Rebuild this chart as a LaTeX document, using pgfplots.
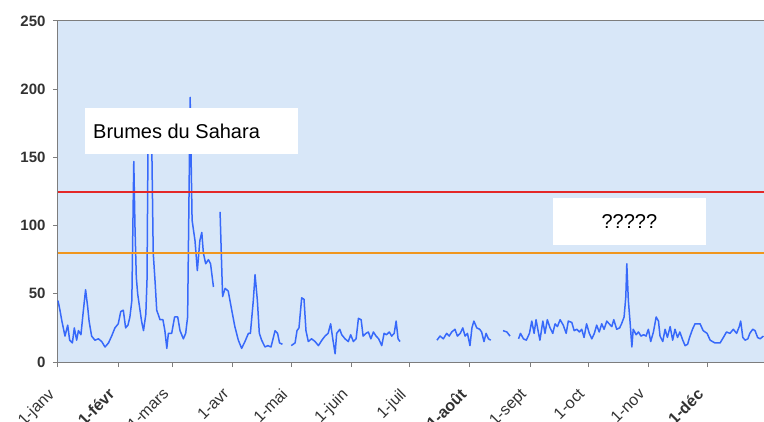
\documentclass[border=0pt]{standalone}
\usepackage{pgfplots}
\pgfplotsset{compat=1.18}
\usepackage{fontspec}
\setmainfont{Liberation Sans}
\definecolor{bgblue}{RGB}{216,231,248}
\definecolor{lineblue}{RGB}{55,105,250}
\definecolor{limred}{RGB}{228,40,40}
\definecolor{reforange}{RGB}{240,150,30}
\definecolor{framegray}{RGB}{125,125,125}
\definecolor{labgray}{RGB}{50,50,50}
\begin{document}
\begin{tikzpicture}
\begin{axis}[
  scale only axis,
  width=706pt, height=341pt,
  xmin=0, xmax=363.3, ymin=0, ymax=250,
  /pgf/number format/assume math mode=true,
  axis background/.style={fill=bgblue},
  axis line style={framegray, line width=1pt},
  tick style={framegray, line width=1pt},
  tick align=outside,
  major tick length=5pt,
  xtick={0,31,59,90,120,151,181,212,243,273,304,334},
  xticklabels={},
  ytick={0,50,100,150,200,250},
  yticklabel style={font=\fontsize{15}{18}\selectfont\bfseries, text=labgray, xshift=-4pt},
  xtick pos=bottom, ytick pos=left,
  unbounded coords=jump,
  clip=false,
]
\addplot[lineblue, line width=1.5pt, line join=round] coordinates {
(0,45)(1,38)(2,30)(3.6,19)(5,27)(6,16)(7.4,14)(8.4,25)(9.6,16)(10.5,23)(11.8,20)(13,37)(14.2,53)(15.3,40)(16,30)(17.3,19)(19,16)(20.8,17)(22.5,15)(24.2,11)(26,14)(27.6,19)(29.3,25)(31,28)(32.3,37)(33.6,38)(34.8,25)(36,27)(37,33)(38,45)(39,147)(39.6,100)(40.3,62)(41,50)(42,40)(43,30)(44,23)(45.2,35)(45.8,60)(46.3,155)(47.3,160)(48.3,155)(49,80)(50,58)(50.8,38)(52.5,31)(54,31)(55,23)(56,10)(56.8,21)(58.5,21)(60,33)(61.6,33)(62.8,23)(64.5,17)(65.7,21)(66.7,33)(68,194)(69,104)(70.5,89)(71.7,67)(73,89)(74,95)(74.8,80)(76,72)(77.4,75)(78.5,72)(80,55)(81,nan)
(83.4,110)(84.7,48)(86,54)(87.6,52)(89.4,38)(91,26)(92.8,16)(94.5,10)(96.2,15)(98,21)(99,21)(100.5,45)(101.4,64)(102.6,45)(103.6,21)(104.8,16)(106.5,11)(108,12)(109.6,11)(111.7,23)(113,21)(114,14)(115.5,13)(117,nan)
(120,12)(122,14)(123,23)(124,25)(125.4,47)(126.6,46)(127.6,23)(128.8,15)(130.5,17)(132.3,15)(134,12)(135.8,16)(137.4,19)(139,21)(140.3,28)(141.4,17)(142.6,6)(143.4,21)(145,24)(146,20)(147.7,17)(149.4,15)(150.6,20)(152,15)(153.4,17)(154.6,32)(156,31)(157,19)(158.5,21)(159.7,22)(161,17)(162.3,22)(163.7,19)(165,17)(166.6,12)(167.8,21)(169,20)(170.5,22)(171.7,19)(173,21)(174,30)(175,17)(176,15)(180,nan)
(195,16)(196.6,19)(198.3,17)(200,21)(201.3,19)(202.6,22)(204.3,24)(205.5,19)(207,21)(208.3,25)(209.5,19)(210.7,21)(212,12)(213,25)(214,30)(215.5,25)(217,24)(218,22)(219.2,15)(220.3,21)(221.5,17)(222.7,16)(225,nan)
(229,23)(231,22)(232.6,19)(235,nan)
(237,17)(238,21)(239.5,17)(241,16)(242.6,21)(243.8,30)(245,21)(246,31)(247.3,21)(248,16)(249.5,30)(250.6,21)(251.8,31)(253.2,25)(254.6,21)(255.8,28)(257,26)(258.4,31)(260,27)(261.5,21)(262.6,30)(264.4,29)(265.6,23)(267,24)(268.3,22)(269.5,24)(270.7,18)(272,28)(273.4,21)(274.7,17)(276,21)(277.2,27)(278.5,22)(279.8,28)(281,24)(282.4,30)(283.6,28)(285,26)(286,31)(287.5,24)(289,25)(290,28)(291.3,33)(292.2,48)(292.7,72)(293.5,45)(294.4,29)(295.3,11)(296,24)(297.5,20)(298.7,22)(300,19)(301.4,20)(302.6,19)(303.8,24)(305,15)(306.4,22)(307.8,33)(309,30)(309.8,19)(311.2,15)(312.4,24)(313.6,18)(315,26)(316.3,16)(317.5,24)(318.8,18)(320,22)(321.5,16)(322.7,12)(324,13)(325,18)(326.5,24)(327.8,28)(330.4,28)(332,23)(334,21)(335.6,16)(338,14)(340.7,14)(342.4,18)(344,22)(345.8,21)(347.5,24)(349.2,21)(350.6,26)(351.3,30)(352.4,18)(353.6,16)(355,17)(356,21)(357.5,24)(358.7,23)(360,18)(361.3,17)(363,19)
};
\addplot[draw=limred, line width=2pt] table {
x y
0 125
363.3 125
};
\addplot[draw=reforange, line width=1.6pt] table {
x y
0 80
363.3 80
};
\fill[white] (axis cs:13.9,152.5) rectangle (axis cs:123.5,186.2);
\node[anchor=west, inner sep=0pt, font=\fontsize{20}{24}\selectfont] at (axis cs:18,169.4) {Brumes du Sahara};
\fill[white] (axis cs:254.8,85.8) rectangle (axis cs:333.5,120.2);
\node[inner sep=0pt, font=\fontsize{20}{24}\selectfont] at (axis cs:294,103) {?????};
\foreach \d/\lab in {0/1-janv,31/\textbf{1-févr},59/1-mars,90/1-avr,120/1-mai,151/1-juin,181/1-juil,212/\textbf{1-août},243/1-sept,273/1-oct,304/1-nov,334/\textbf{1-déc}}{
  \edef\temp{\noexpand\node[rotate=45, anchor=north east, inner sep=0pt, text=labgray, font=\noexpand\fontsize{16}{19}\noexpand\selectfont] at ([xshift=-11pt,yshift=-25pt]axis cs:\d,0) {\unexpanded\expandafter{\lab}};}
  \temp
}
\end{axis}
\pgfresetboundingbox
\path (-58pt,-59pt) rectangle (706pt,362pt);
\end{tikzpicture}
\end{document}
